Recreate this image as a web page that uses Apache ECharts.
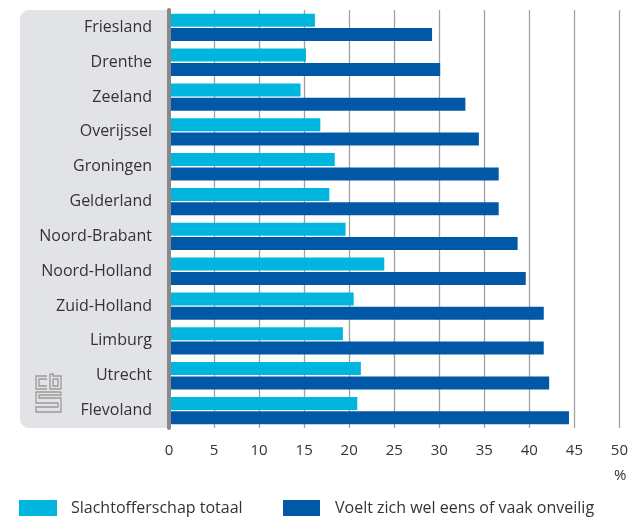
<!DOCTYPE html>
<html>
<head>
<meta charset="utf-8">
<script src="https://cdn.jsdelivr.net/npm/echarts@6/dist/echarts.min.js"></script>
<style>
  html, body { margin: 0; padding: 0; background: #fff; }
  #chart { width: 631px; height: 518px; }
</style>
</head>
<body>
<div id="chart"></div>
<script>
const provinces = [
  'Friesland', 'Drenthe', 'Zeeland', 'Overijssel', 'Groningen', 'Gelderland',
  'Noord-Brabant', 'Noord-Holland', 'Zuid-Holland', 'Limburg', 'Utrecht', 'Flevoland'
]
const slachtoffer = [16.2, 15.2, 14.6, 16.8, 18.4, 17.8, 19.6, 23.9, 20.5, 19.3, 21.3, 20.9]
const onveilig = [29.2, 30.1, 32.9, 34.4, 36.6, 36.6, 38.7, 39.6, 41.6, 41.6, 42.2, 44.4]
const seriesNames = ['Slachtofferschap totaal', 'Voelt zich wel eens of vaak onveilig']
const colors = ['#00b6de', '#0058a6']

const font = '"Open Sans", sans-serif'
const textColor = '#333'

const chart = echarts.init(document.getElementById('chart'))

// cbs logo, rough outline
const logoLine = { stroke: '#9a9a9a', lineWidth: 1.3, fill: null }
const logo = [
  [[47, 376], [36, 376], [36, 389], [47, 389]],
  [[47, 379], [39, 379], [39, 386], [47, 386]],
  [[50, 374], [50, 389], [61, 389], [61, 376], [53, 376], [53, 374], [50, 374]],
  [[53, 379], [58, 379], [58, 386], [53, 386], [53, 379]],
  [[61, 392], [36, 392], [36, 403], [58, 403], [58, 407], [36, 407], [36, 412], [61, 412], [61, 398], [39, 398], [39, 395], [61, 395], [61, 392]]
].map(points => ({
  type: 'polyline',
  z: 1,
  shape: { points },
  style: logoLine
}))

const option = {
  animation: false,
  textStyle: { fontFamily: font },
  grid: { left: 169, right: 10, top: 10, height: 418 },
  graphic: [
    {
      type: 'rect',
      z: -10,
      shape: { x: 20, y: 10, width: 160, height: 418, r: [9, 0, 0, 9] },
      style: { fill: '#e2e3e6' }
    },
    {
      type: 'rect',
      z: -9,
      shape: { x: 171, y: 10, width: 12, height: 418 },
      style: { fill: '#fff' }
    },
    {
      type: 'text',
      left: 614,
      top: 468,
      style: { text: '%', font: '15px ' + font, fill: textColor }
    },
    ...logo
  ],
  legend: [
    {
      left: 19, top: 500, padding: 0,
      data: [seriesNames[0]],
      icon: 'rect', itemWidth: 38, itemHeight: 16,
      textStyle: { fontSize: 16, color: textColor, padding: [0, 0, 0, 9] }
    },
    {
      left: 283, top: 500, padding: 0,
      data: [seriesNames[1]],
      icon: 'rect', itemWidth: 37, itemHeight: 16,
      textStyle: { fontSize: 16, color: textColor, padding: [0, 0, 0, 10] }
    }
  ],
  xAxis: {
    type: 'value',
    min: 0, max: 50, interval: 5,
    axisLine: { show: false },
    axisTick: { show: false },
    axisLabel: { margin: 15, fontSize: 15, color: textColor },
    splitLine: { lineStyle: { color: '#a0a0a0', width: 1.3 } }
  },
  yAxis: {
    type: 'category',
    inverse: true,
    data: provinces,
    z: 5,
    axisLine: { lineStyle: { color: '#888', width: 4 } },
    axisTick: { show: false },
    axisLabel: { margin: 17, fontSize: 16, color: textColor }
  },
  series: [
    {
      name: seriesNames[0],
      type: 'bar',
      data: slachtoffer,
      barWidth: 13,
      barGap: '10%',
      itemStyle: { color: colors[0] }
    },
    {
      name: seriesNames[1],
      type: 'bar',
      data: onveilig,
      barWidth: 13,
      barGap: '10%',
      itemStyle: { color: colors[1] }
    }
  ]
}

chart.setOption(option)
</script>
</body>
</html>
